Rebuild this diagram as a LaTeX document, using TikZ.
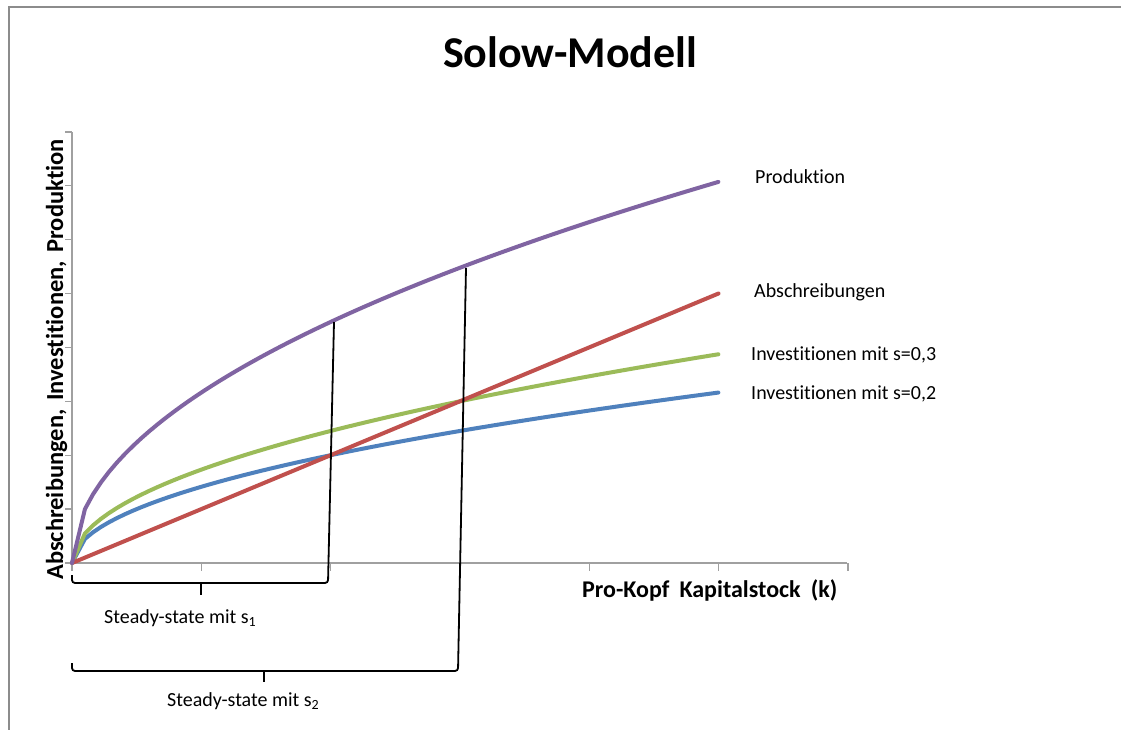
\documentclass[tikz,border=0pt]{standalone}
\usepackage{fontspec}
\setmainfont[Ligatures={NoCommon}]{Carlito}
\definecolor{cpurple}{HTML}{8064A2}
\definecolor{cred}{HTML}{C0504D}
\definecolor{cgreen}{HTML}{9BBB59}
\definecolor{cblue}{HTML}{4F81BD}
\definecolor{caxis}{HTML}{A0A0A0}
\definecolor{cframe}{HTML}{8C8C8C}
\begin{document}
\begin{tikzpicture}[x=1pt,y=-1pt,
  curve/.style={line width=4pt,line join=round,line cap=round},
  axisline/.style={draw=caxis,line width=1.4pt},
  bracket/.style={draw=black,line width=1.8pt,rounded corners=3pt},
  legendlbl/.style={anchor=base west,inner sep=0pt,font=\fontsize{20}{24}\selectfont},
  boldlbl/.style={inner sep=0pt,font=\fontsize{24}{28}\selectfont\bfseries}]
\useasboundingbox (0,0) rectangle (1121,729);
\fill[white] (0,0) rectangle (1121,729);
% frame
\draw[cframe,line width=2.6pt] (9,735) -- (9,7) -- (1130,7);
% title
\node[anchor=base,inner sep=0pt,font=\fontsize{44}{50}\selectfont\bfseries] (title) at (570,67) {Solow-Modell};
% axes
\coordinate (O) at (72,563);
\draw[axisline] (72,132) -- (O) -- (847,563);
\foreach \i in {0,...,6} \draw[axisline] ({72+129.3*\i},563) -- ({72+129.3*\i},571);
\foreach \j in {0,...,8} \draw[axisline] (65,{563-53.9*\j}) -- (72,{563-53.9*\j});
% curves
\draw[curve,cblue] (O) -- plot[domain=0.1:5,samples=80] ({72+129.3*\x},{563-53.9*sqrt(2*\x)});
\draw[curve,cgreen] (O) -- plot[domain=0.1:5,samples=80] ({72+129.3*\x},{563-53.9*sqrt(3*\x)});
\draw[curve,cred] (O) -- ({72+129.3*5},{563-53.9*5});
\draw[curve,cpurple] (O) -- plot[domain=0.1:5,samples=80] ({72+129.3*\x},{563-53.9*sqrt(10*\x)});
% legend labels
\node[legendlbl] (prod) at (755,183) {Produktion};
\node[legendlbl] (absch) at (754,297) {Abschreibungen};
\node[legendlbl] (inv3) at (751,360) {Investitionen mit s=0,3};
\node[legendlbl] (inv2) at (751,399) {Investitionen mit s=0,2};
% axis titles
\node[boldlbl,anchor=base west] (xlab) at (582,597) {Pro-Kopf\hspace{0.42em}Kapitalstock\hspace{0.42em}(k)};
\node[boldlbl,anchor=base west,rotate=90,font=\fontsize{24.5}{28}\selectfont\bfseries] (ylab) at (63,580) {Abschreibungen,\hspace{0.35em}Investitionen,\hspace{0.35em}Produktion};
% brackets
\coordinate (b1a) at (72,575);
\coordinate (b1b) at (72,583);
\coordinate (b1c) at (328,583);
\coordinate (b1d) at (334,322);
\coordinate (b1m) at (201,583);
\coordinate (b1t) at (201,595);
\draw[bracket] (b1a) -- (b1b) -- (b1c) -- (b1d);
\draw[bracket] (b1m) -- (b1t);
\coordinate (b2a) at (72,663);
\coordinate (b2b) at (72,671);
\coordinate (b2c) at (458,671);
\coordinate (b2d) at (466,268);
\coordinate (b2m) at (264,671);
\coordinate (b2t) at (264,682);
\draw[bracket] (b2a) -- (b2b) -- (b2c) -- (b2d);
\draw[bracket] (b2m) -- (b2t);
\node[legendlbl] (ss1) at (104,623) {Steady-state mit s\textsubscript{1}};
\node[legendlbl] (ss2) at (167,706) {Steady-state mit s\textsubscript{2}};
\end{tikzpicture}
\end{document}
